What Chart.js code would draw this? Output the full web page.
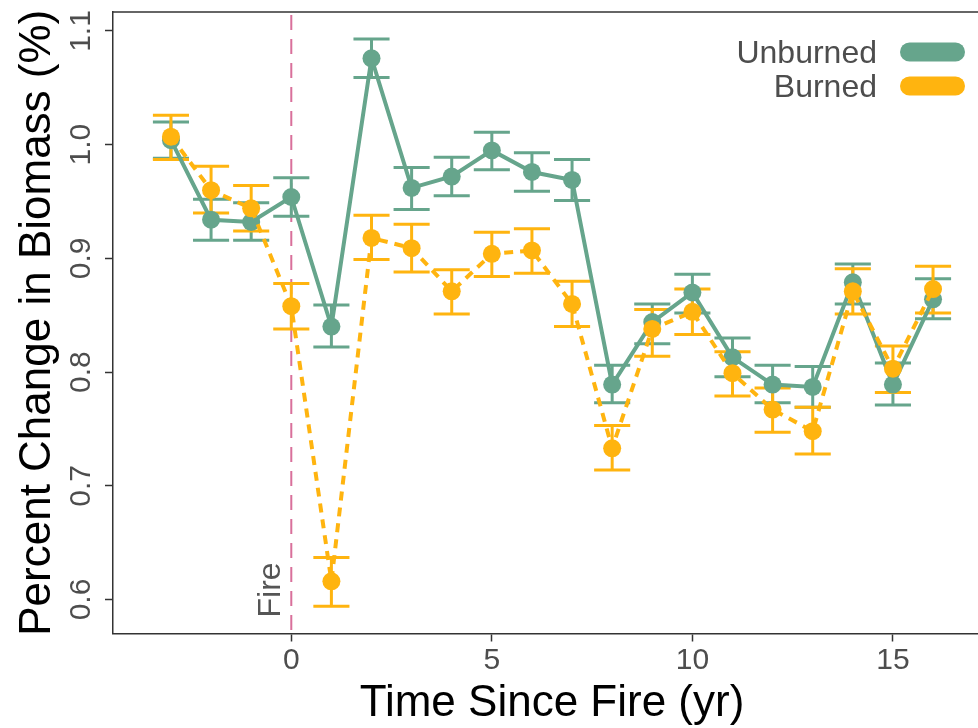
<!DOCTYPE html>
<html>
<head>
<meta charset="utf-8">
<script src="https://cdn.jsdelivr.net/npm/chart.js@4.4.1/dist/chart.umd.min.js"></script>
<style>
  html, body { margin: 0; padding: 0; overflow: hidden; background: #fff; }
  canvas { display: block; }
</style>
</head>
<body>
<canvas id="grafico" width="1000" height="728"></canvas>
<script>
// datos
const years = [-3, -2, -1, 0, 1, 2, 3, 4, 5, 6, 7, 8, 9, 10, 11, 12, 13, 14, 15, 16];

const unburned   = [1.004, 0.934, 0.932, 0.954, 0.840, 1.076, 0.962, 0.972, 0.995, 0.976, 0.969, 0.789, 0.844, 0.870, 0.813, 0.789, 0.787, 0.879, 0.789, 0.864];
const unburnedLo = [0.988, 0.916, 0.916, 0.937, 0.822, 1.059, 0.943, 0.955, 0.978, 0.959, 0.951, 0.773, 0.825, 0.852, 0.796, 0.773, 0.769, 0.860, 0.771, 0.847];
const unburnedHi = [1.020, 0.952, 0.949, 0.971, 0.859, 1.093, 0.980, 0.989, 1.011, 0.993, 0.987, 0.806, 0.860, 0.886, 0.830, 0.806, 0.805, 0.895, 0.808, 0.882];

const burned   = [1.007, 0.960, 0.944, 0.858, 0.616, 0.918, 0.909, 0.871, 0.904, 0.907, 0.860, 0.733, 0.838, 0.853, 0.799, 0.767, 0.748, 0.871, 0.803, 0.873];
const burnedLo = [0.987, 0.940, 0.924, 0.838, 0.594, 0.899, 0.888, 0.851, 0.884, 0.887, 0.840, 0.714, 0.814, 0.833, 0.779, 0.747, 0.728, 0.851, 0.782, 0.852];
const burnedHi = [1.026, 0.981, 0.964, 0.878, 0.637, 0.938, 0.930, 0.890, 0.923, 0.926, 0.880, 0.753, 0.855, 0.873, 0.818, 0.786, 0.769, 0.891, 0.823, 0.893];

const xTicks = [0, 5, 10, 15];
const yTicks = [0.6, 0.7, 0.8, 0.9, 1.0, 1.1];
const yTickLabels = ["0.6", "0.7", "0.8", "0.9", "1.0", "1.1"];
const fireYear = 0;

const verde = "#66A58C";
const naranja = "#FFB40F";
const rosa = "#D9709B";
const gris = "#4d4d4d";
const fuente = "'Liberation Sans', Arial, sans-serif";

function puntos(valores) {
  return years.map((a, i) => ({ x: a, y: valores[i] }));
}

const series = [
  { nombre: "Unburned", color: verde, lo: unburnedLo, hi: unburnedHi },
  { nombre: "Burned", color: naranja, lo: burnedLo, hi: burnedHi }
];

const extras = {
  id: "extras",
  beforeDatasetsDraw(chart) {
    const ctx = chart.ctx;
    const x = chart.scales.x;
    const y = chart.scales.y;
    const area = chart.chartArea;

    // linea del fuego
    ctx.save();
    ctx.strokeStyle = rosa;
    ctx.lineWidth = 2;
    ctx.setLineDash([15, 9]);
    const fx = x.getPixelForValue(fireYear);
    ctx.beginPath();
    ctx.moveTo(fx, area.top + 3);
    ctx.lineTo(fx, area.bottom);
    ctx.stroke();
    ctx.restore();

    // barras de error
    ctx.save();
    ctx.lineWidth = 3;
    series.forEach(s => {
      ctx.strokeStyle = s.color;
      years.forEach((a, i) => {
        const px = x.getPixelForValue(a);
        const x0 = x.getPixelForValue(a - 0.45);
        const x1 = x.getPixelForValue(a + 0.45);
        const yl = y.getPixelForValue(s.lo[i]);
        const yh = y.getPixelForValue(s.hi[i]);
        ctx.beginPath();
        ctx.moveTo(px, yh); ctx.lineTo(px, yl);
        ctx.moveTo(x0, yh); ctx.lineTo(x1, yh);
        ctx.moveTo(x0, yl); ctx.lineTo(x1, yl);
        ctx.stroke();
      });
    });
    ctx.restore();
  },
  afterDraw(chart) {
    const ctx = chart.ctx;
    const y = chart.scales.y;
    const x = chart.scales.x;
    const area = chart.chartArea;

    // borde superior
    ctx.save();
    ctx.strokeStyle = "#333";
    ctx.lineWidth = 1.5;
    ctx.beginPath();
    ctx.moveTo(area.left, area.top);
    ctx.lineTo(area.right, area.top);
    ctx.stroke();

    // etiquetas del eje y giradas
    ctx.fillStyle = gris;
    ctx.font = "30px " + fuente;
    ctx.textAlign = "center";
    ctx.textBaseline = "alphabetic";
    yTicks.forEach((v, i) => {
      ctx.save();
      ctx.translate(area.left - 23, y.getPixelForValue(v));
      ctx.rotate(-Math.PI / 2);
      ctx.fillText(yTickLabels[i], 0, 0);
      ctx.restore();
    });

    // texto Fire
    ctx.save();
    ctx.font = "32px " + fuente;
    ctx.fillStyle = "#555";
    ctx.textAlign = "left";
    ctx.translate(x.getPixelForValue(fireYear) - 11, y.bottom - 16);
    ctx.rotate(-Math.PI / 2);
    ctx.fillText("Fire", 0, 0);
    ctx.restore();

    // leyenda
    ctx.font = "32px " + fuente;
    ctx.textAlign = "right";
    ctx.fillStyle = gris;
    series.forEach((s, i) => {
      const cy = 52 + i * 34;
      ctx.fillText(s.nombre, 877, cy + 11);
      ctx.strokeStyle = s.color;
      ctx.lineWidth = 19;
      ctx.lineCap = "round";
      ctx.beginPath();
      ctx.moveTo(909.5, cy);
      ctx.lineTo(955.5, cy);
      ctx.stroke();
    });
    ctx.restore();
  }
};

new Chart(document.getElementById("grafico"), {
  type: "line",
  data: {
    datasets: [
      {
        label: "Unburned",
        data: puntos(unburned),
        borderColor: verde,
        backgroundColor: verde,
        borderWidth: 4,
        pointRadius: 9,
        pointBorderWidth: 0,
        pointBackgroundColor: verde,
        tension: 0,
        order: 1
      },
      {
        label: "Burned",
        data: puntos(burned),
        borderColor: naranja,
        backgroundColor: naranja,
        borderWidth: 4,
        borderDash: [9, 7],
        pointRadius: 9,
        pointBorderWidth: 0,
        pointBackgroundColor: naranja,
        tension: 0,
        order: 0
      }
    ]
  },
  options: {
    responsive: false,
    animation: false,
    layout: { padding: { left: 0, top: 12, right: 5, bottom: 0 } },
    plugins: { legend: { display: false }, tooltip: { enabled: false } },
    scales: {
      x: {
        type: "linear",
        min: -4.445,
        max: 17.445,
        afterBuildTicks: s => { s.ticks = xTicks.map(v => ({ value: v })); },
        grid: { display: true, drawOnChartArea: false, drawTicks: true, tickLength: 8, tickWidth: 1.5, tickColor: "#333" },
        border: { display: true, color: "#333", width: 1.5 },
        ticks: { color: gris, font: { family: fuente, size: 30, lineHeight: 1 }, padding: 4.5, maxRotation: 0, autoSkip: false },
        title: { display: true, text: "Time Since Fire (yr)", color: "#000", font: { family: fuente, size: 44, lineHeight: 1 }, padding: { top: 1.5, bottom: 2 } }
      },
      y: {
        min: 0.5701,
        max: 1.1167,
        afterBuildTicks: s => { s.ticks = yTicks.map(v => ({ value: v })); },
        grid: { display: true, drawOnChartArea: false, drawTicks: true, tickLength: 8, tickWidth: 1.5, tickColor: "#333" },
        border: { display: true, color: "#333", width: 1.5 },
        ticks: { display: false },
        title: { display: true, text: "Percent Change in Biomass (%)", color: "#000", font: { family: fuente, size: 44, lineHeight: 1 }, padding: { top: 16, bottom: 45 } }
      }
    }
  },
  plugins: [extras]
});
</script>
</body>
</html>
